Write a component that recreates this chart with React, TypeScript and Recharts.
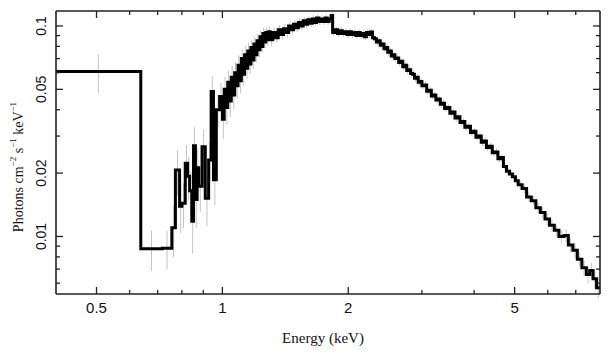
import React from "react";
import {
  ComposedChart,
  Line,
  Scatter,
  ErrorBar,
  XAxis,
  YAxis
} from "recharts";

// bin edges (keV), one more than flux values
const binEdges = [
  // below 1 keV
  0.40, 0.638, 0.718, 0.757, 0.772, 0.790, 0.800, 0.815, 0.826, 0.835,
  0.845, 0.853, 0.862, 0.870, 0.877, 0.894, 0.910, 0.927, 0.940, 0.952,
  0.967, 0.985,
  // 1.0 - 1.3
  1.00, 1.01, 1.02, 1.03, 1.04, 1.05, 1.06, 1.07, 1.08, 1.09,
  1.10, 1.11, 1.12, 1.13, 1.14, 1.15, 1.16, 1.17, 1.18, 1.19,
  1.20, 1.21, 1.22, 1.23, 1.24, 1.25, 1.26, 1.27, 1.28, 1.29,
  // 1.3 - 1.835
  1.30, 1.32, 1.34, 1.36, 1.38, 1.40, 1.42, 1.44, 1.46, 1.48,
  1.50, 1.52, 1.54, 1.56, 1.58, 1.60, 1.62, 1.64, 1.66, 1.68,
  1.70, 1.72, 1.74, 1.76, 1.78, 1.80, 1.82,
  // 1.835 - 5.1
  1.835, 1.86, 1.885, 1.91, 1.935, 1.96, 1.985, 2.01, 2.035, 2.06,
  2.085, 2.11, 2.135, 2.16, 2.185, 2.21, 2.235, 2.26, 2.285, 2.31,
  2.335, 2.36, 2.385, 2.41, 2.435, 2.46, 2.485, 2.51, 2.535, 2.56,
  2.585, 2.61, 2.64, 2.67, 2.70, 2.73, 2.76, 2.79, 2.82, 2.85,
  2.88, 2.91, 2.94, 2.97, 3.00, 3.04, 3.08, 3.12, 3.16, 3.20,
  3.24, 3.28, 3.32, 3.36, 3.40, 3.45, 3.50, 3.55, 3.60, 3.65,
  3.70, 3.75, 3.80, 3.86, 3.92, 3.98, 4.04, 4.10, 4.16, 4.22,
  4.28, 4.35, 4.42, 4.49, 4.56, 4.63, 4.70, 4.78, 4.86, 4.94,
  5.02,
  // 5.1 - 8
  5.10, 5.21, 5.34, 5.48, 5.62, 5.76, 5.91, 6.06, 6.22, 6.38,
  6.56, 6.72, 6.89, 7.06, 7.24, 7.42, 7.56, 7.70, 7.85,
  8.00
];

// photons cm^-2 s^-1 keV^-1
const flux = [
  0.0607, 0.00874, 0.0088, 0.0110, 0.0207, 0.0139, 0.0144, 0.0223, 0.0193, 0.0165,
  0.0118, 0.0270, 0.0150, 0.0212, 0.0173, 0.0267, 0.0152, 0.0231, 0.0488, 0.0186,
  0.0400, 0.0462,

  0.0360, 0.0500, 0.0410, 0.0540, 0.0440, 0.0570, 0.0470, 0.0600, 0.0520, 0.0650,
  0.0550, 0.0700, 0.0590, 0.0730, 0.0630, 0.0760, 0.0660, 0.0790, 0.0690, 0.0820,
  0.0730, 0.0850, 0.0770, 0.0890, 0.0800, 0.0920, 0.0840, 0.0930, 0.0860, 0.0940,

  0.0860, 0.0930, 0.0880, 0.0960, 0.0910, 0.0970, 0.0930, 0.1000, 0.0960, 0.1020,
  0.0980, 0.1040, 0.1000, 0.1060, 0.1020, 0.1070, 0.1030, 0.1080, 0.1040, 0.1090,
  0.1050, 0.1080, 0.1050, 0.1090, 0.1050, 0.1080, 0.1120,

  0.0930, 0.0960, 0.0920, 0.0950, 0.0920, 0.0940, 0.0910, 0.0940, 0.0910, 0.0930,
  0.0900, 0.0930, 0.0900, 0.0920, 0.0890, 0.0930, 0.0910, 0.0935, 0.0880, 0.0870,
  0.0840, 0.0850, 0.0810, 0.0820, 0.0780, 0.0790, 0.0750, 0.0760, 0.0720, 0.0730,
  0.0700, 0.0705, 0.0670, 0.0680, 0.0640, 0.0650, 0.0615, 0.0620, 0.0595, 0.0590,
  0.0565, 0.0570, 0.0540, 0.0545, 0.0520, 0.0525, 0.0490, 0.0495, 0.0465, 0.0470,
  0.0445, 0.0450, 0.0425, 0.0430, 0.0405, 0.0410, 0.0385, 0.0390, 0.0365, 0.0370,
  0.0348, 0.0352, 0.0330, 0.0334, 0.0312, 0.0316, 0.0296, 0.0300, 0.0280, 0.0284,
  0.0265, 0.0268, 0.0250, 0.0252, 0.0234, 0.0237, 0.0215, 0.0204, 0.0198, 0.0192,
  0.0184,

  0.0176, 0.0169, 0.0154, 0.0148, 0.0137, 0.0130, 0.0121, 0.0113, 0.0107, 0.0100,
  0.0101, 0.0091, 0.0086, 0.0078, 0.0071, 0.0066, 0.0069, 0.0063, 0.0057
];

const fluxErr = [
  0.0125, 0.0019, 0.0018, 0.0030, 0.0050, 0.0035, 0.0035, 0.0050, 0.0045, 0.0040,
  0.0035, 0.0060, 0.0040, 0.0050, 0.0042, 0.0055, 0.0040, 0.0050, 0.0090, 0.0045,
  0.0070, 0.0075,

  0.0070, 0.0075, 0.0070, 0.0075, 0.0070, 0.0075, 0.0070, 0.0075, 0.0070, 0.0075,
  0.0070, 0.0075, 0.0070, 0.0075, 0.0070, 0.0070, 0.0065, 0.0070, 0.0065, 0.0065,
  0.0060, 0.0065, 0.0060, 0.0060, 0.0055, 0.0060, 0.0055, 0.0055, 0.0055, 0.0055,

  0.0055, 0.0055, 0.0050, 0.0050, 0.0050, 0.0050, 0.0048, 0.0048, 0.0046, 0.0046,
  0.0045, 0.0045, 0.0044, 0.0044, 0.0043, 0.0043, 0.0042, 0.0042, 0.0041, 0.0041,
  0.0040, 0.0040, 0.0040, 0.0040, 0.0040, 0.0040, 0.0040,

  0.0035, 0.0035, 0.0035, 0.0035, 0.0035, 0.0035, 0.0035, 0.0035, 0.0035, 0.0035,
  0.0034, 0.0034, 0.0034, 0.0034, 0.0034, 0.0034, 0.0034, 0.0034, 0.0033, 0.0033,
  0.0032, 0.0032, 0.0031, 0.0031, 0.0030, 0.0030, 0.0029, 0.0029, 0.0028, 0.0028,
  0.0027, 0.0027, 0.0026, 0.0026, 0.0025, 0.0025, 0.0024, 0.0024, 0.0023, 0.0023,
  0.0022, 0.0022, 0.0021, 0.0021, 0.0020, 0.0020, 0.0019, 0.0019, 0.0018, 0.0018,
  0.0017, 0.0017, 0.0016, 0.0016, 0.0015, 0.0015, 0.0015, 0.0014, 0.0014, 0.0014,
  0.0013, 0.0013, 0.0013, 0.0012, 0.0012, 0.0012, 0.0011, 0.0011, 0.0011, 0.0011,
  0.0010, 0.0010, 0.0010, 0.0010, 0.0009, 0.0009, 0.0009, 0.0009, 0.0009, 0.0009,
  0.0009,

  0.0009, 0.0009, 0.0008, 0.0008, 0.0008, 0.0008, 0.0008, 0.0007, 0.0007, 0.0007,
  0.0007, 0.0007, 0.0007, 0.0006, 0.0006, 0.0006, 0.0006, 0.0006, 0.0006
];

const majorX = [0.5, 1, 2, 5];
const minorX = [0.6, 0.7, 0.8, 0.9, 3, 4, 6, 7];
const majorY = [0.01, 0.02, 0.05, 0.1];
const minorY = [0.006, 0.007, 0.008, 0.009, 0.03, 0.04, 0.06, 0.07, 0.08, 0.09];

const stepData = binEdges.map((e, i) => ({ e, f: flux[Math.min(i, flux.length - 1)] }));
const errData = flux.map((f, i) => ({
  e: Math.sqrt(binEdges[i] * binEdges[i + 1]),
  f,
  err: fluxErr[i]
}));

const AXIS = "#222";
const SANS = "'Liberation Sans', Arial, sans-serif";
const SERIF = "'Liberation Serif', 'Times New Roman', serif";

const BottomTick = (props: any) => {
  const { x, y, payload } = props;
  const major = majorX.includes(payload.value);
  return (
    <g>
      <line x1={x} x2={x} y1={y} y2={y - (major ? 7 : 4)} stroke={AXIS} strokeWidth={1.3} />
      {major && (
        <text x={x} y={y + 19} textAnchor="middle" fontSize={15} fontFamily={SANS} fill="#111">
          {payload.value}
        </text>
      )}
    </g>
  );
};

const TopTick = (props: any) => {
  const { x, y, payload } = props;
  const major = majorX.includes(payload.value);
  return <line x1={x} x2={x} y1={y} y2={y + (major ? 7 : 4)} stroke={AXIS} strokeWidth={1.3} />;
};

const LeftTick = (props: any) => {
  const { x, y, payload } = props;
  const major = majorY.includes(payload.value);
  const tx = x - 15;
  return (
    <g>
      <line x1={x} x2={x + (major ? 7 : 4)} y1={y} y2={y} stroke={AXIS} strokeWidth={1.3} />
      {major && (
        <text
          x={tx}
          y={y}
          transform={`rotate(-90, ${tx}, ${y})`}
          textAnchor="middle"
          dominantBaseline="central"
          fontSize={14}
          fontFamily={SANS}
          fill="#111"
        >
          {payload.value}
        </text>
      )}
    </g>
  );
};

const RightTick = (props: any) => {
  const { x, y, payload } = props;
  const major = majorY.includes(payload.value);
  return <line x1={x} x2={x - (major ? 7 : 4)} y1={y} y2={y} stroke={AXIS} strokeWidth={1.3} />;
};

export default function App() {
  const xTicks = [...majorX, ...minorX].sort((a, b) => a - b);
  const yTicks = [...majorY, ...minorY].sort((a, b) => a - b);

  return (
    <div style={{ position: "absolute", left: 0, top: 0, width: 609, height: 357, background: "#fff" }}>
      <ComposedChart width={609} height={357} margin={{ top: 0, right: 0, bottom: 0, left: 0 }}>
        <XAxis
          xAxisId="b"
          dataKey="e"
          type="number"
          scale="log"
          domain={[0.4, 8]}
          allowDataOverflow
          ticks={xTicks}
          interval={0}
          tickSize={0}
          tickMargin={0}
          tickLine={false}
          tick={<BottomTick />}
          height={63}
          axisLine={{ stroke: AXIS, strokeWidth: 1.6 }}
        />
        <XAxis
          xAxisId="t"
          orientation="top"
          dataKey="e"
          type="number"
          scale="log"
          domain={[0.4, 8]}
          allowDataOverflow
          ticks={xTicks}
          interval={0}
          tickSize={0}
          tickMargin={0}
          tickLine={false}
          tick={<TopTick />}
          height={11}
          axisLine={{ stroke: AXIS, strokeWidth: 1.6 }}
        />
        <YAxis
          yAxisId="l"
          dataKey="f"
          type="number"
          scale="log"
          domain={[0.00533, 0.1178]}
          allowDataOverflow
          ticks={yTicks}
          interval={0}
          tickSize={0}
          tickMargin={0}
          tickLine={false}
          tick={<LeftTick />}
          width={56}
          axisLine={{ stroke: AXIS, strokeWidth: 1.6 }}
        />
        <YAxis
          yAxisId="r"
          orientation="right"
          dataKey="f"
          type="number"
          scale="log"
          domain={[0.00533, 0.1178]}
          allowDataOverflow
          ticks={yTicks}
          interval={0}
          tickSize={0}
          tickMargin={0}
          tickLine={false}
          tick={<RightTick />}
          width={9}
          axisLine={{ stroke: AXIS, strokeWidth: 1.6 }}
        />
        <Scatter
          data={errData}
          dataKey="f"
          xAxisId="b"
          yAxisId="l"
          shape={() => <g />}
          isAnimationActive={false}
        >
          <ErrorBar dataKey="err" direction="y" width={0} stroke="#c4c4c4" strokeWidth={1} isAnimationActive={false} />
        </Scatter>
        <Line
          data={stepData}
          dataKey="f"
          xAxisId="b"
          yAxisId="l"
          type="stepAfter"
          stroke="#000"
          strokeWidth={3}
          dot={false}
          activeDot={false}
          isAnimationActive={false}
        />
      </ComposedChart>
      <svg width={609} height={357} style={{ position: "absolute", left: 0, top: 0, pointerEvents: "none" }}>
        <text
          x={18}
          y={167}
          transform="rotate(-90, 18, 167)"
          textAnchor="middle"
          dominantBaseline="central"
          fontSize={14}
          fontFamily={SERIF}
          fill="#111"
        >
          <tspan>Photons cm</tspan>
          <tspan fontSize={9} dy={-5}>−2</tspan>
          <tspan dy={5}> s</tspan>
          <tspan fontSize={9} dy={-5}>−1</tspan>
          <tspan dy={5}> keV</tspan>
          <tspan fontSize={9} dy={-5}>−1</tspan>
        </text>
        <text x={323} y={343} textAnchor="middle" fontSize={15} fontFamily={SERIF} fill="#111">
          Energy (keV)
        </text>
      </svg>
    </div>
  );
}
